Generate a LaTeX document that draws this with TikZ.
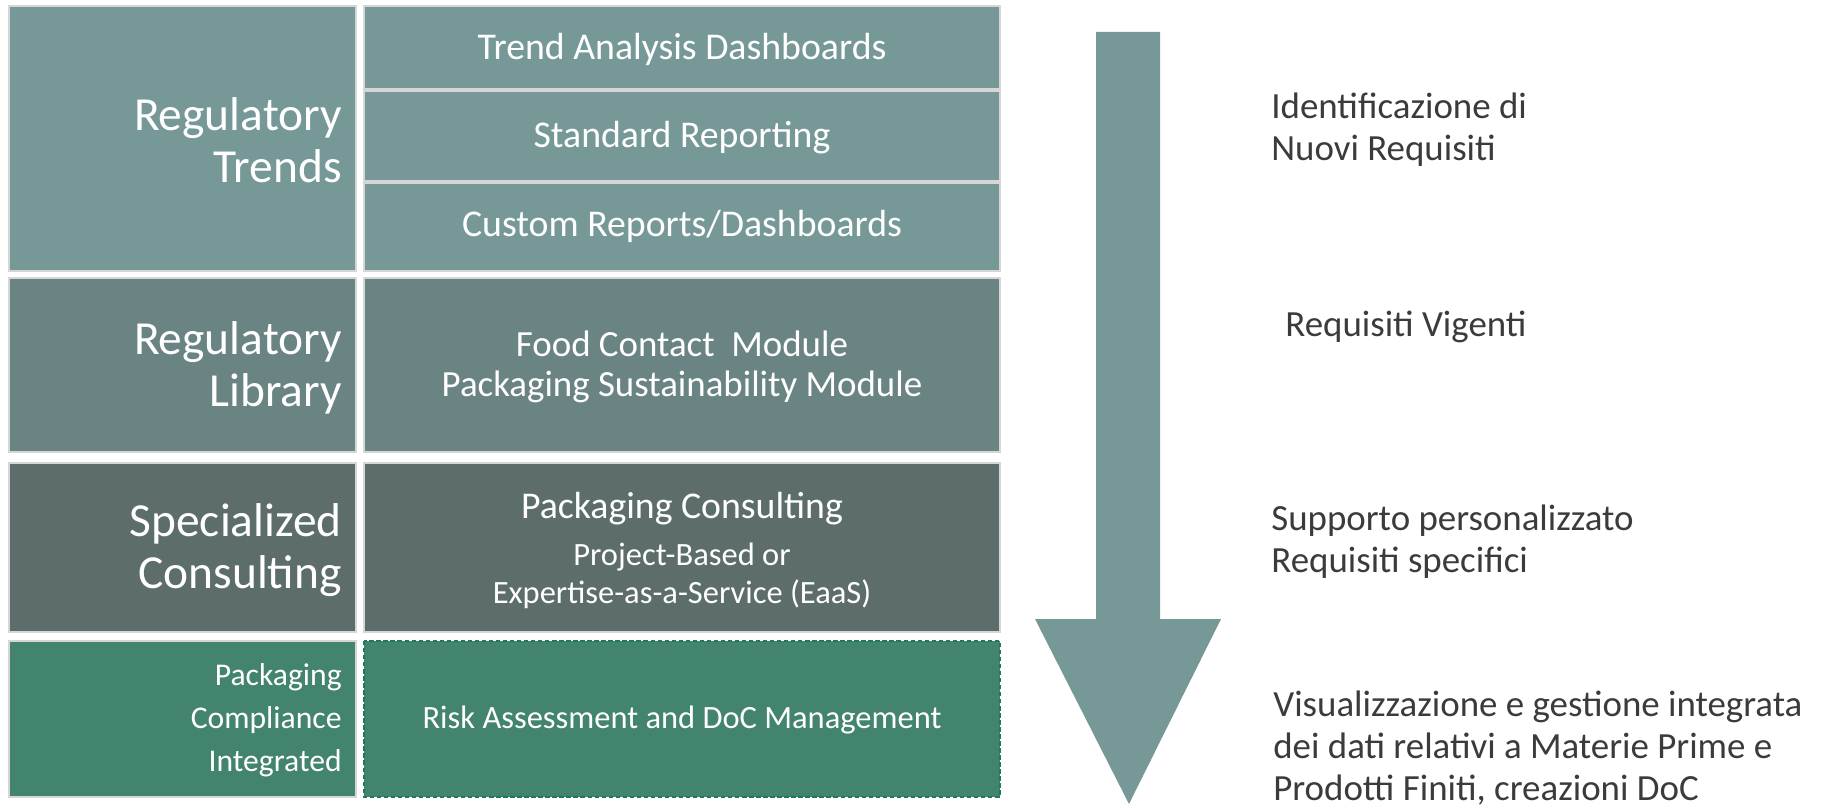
\documentclass[tikz,border=0pt]{standalone}
\usepackage{fontspec}
\setmainfont{Carlito}
\usetikzlibrary{calc}
\definecolor{trendcol}{HTML}{769998}
\definecolor{libcol}{HTML}{6A8383}
\definecolor{conscol}{HTML}{5D6D6C}
\definecolor{pcicol}{HTML}{43846F}
\definecolor{edgecol}{HTML}{D6D6D6}
\definecolor{dashcol}{HTML}{1F7A55}
\definecolor{txtcol}{HTML}{3B3B3B}

\begin{document}
\begin{tikzpicture}[x=0.02cm,y=-0.02cm,
  cell/.style={draw=edgecol,line width=1.2pt},
  lab/.style={text=white,anchor=east,align=right,inner sep=0pt,font=\fontsize{27}{29.5}\selectfont},
  item/.style={text=white,align=center,inner sep=0pt,font=\fontsize{21.5}{23.5}\selectfont},
  note/.style={text=txtcol,anchor=west,align=left,inner sep=0pt,font=\fontsize{21}{24}\selectfont}]
\useasboundingbox (0,0) rectangle (1832,810);
% cells
\filldraw[cell,fill=trendcol] (9,6) rectangle (356,271);
\filldraw[cell,fill=trendcol] (364,6) rectangle (1000,89);
\filldraw[cell,fill=trendcol] (364,91) rectangle (1000,181);
\filldraw[cell,fill=trendcol] (364,183) rectangle (1000,271);
\filldraw[cell,fill=libcol] (9,278) rectangle (356,452);
\filldraw[cell,fill=libcol] (364,278) rectangle (1000,452);
\filldraw[cell,fill=conscol] (9,463) rectangle (356,632);
\filldraw[cell,fill=conscol] (364,463) rectangle (1000,632);
\filldraw[cell,fill=pcicol] (9,641) rectangle (356,797);
\filldraw[fill=pcicol,draw=dashcol,line width=0.8pt,dash pattern=on 2.5pt off 1.5pt] (364,641) rectangle (1000,797);
% left labels
\node[lab] (trends) at (342,140) {Regulatory\\Trends};
\node[lab] (library) at (342,368) {Regulatory\\Library};
\node[lab] (consult) at (342,550) {Specialized\\Consulting};
\node[lab,font=\fontsize{18}{24.5}\selectfont] (pci) at (342,720) {Packaging\\Compliance\\Integrated};
% right column
\node[item] (dash) at (682,49) {Trend Analysis Dashboards};
\node[item] (std) at (682,138) {Standard Reporting};
\node[item] (custom) at (682,226) {Custom Reports/Dashboards};
\node[item,font=\fontsize{21}{23}\selectfont] (modules) at (682,367) {Food Contact\ \ Module\\Packaging Sustainability Module};
\node[item] (pkgcons) at (682,509) {Packaging Consulting};
\node[item,font=\fontsize{18.5}{21.5}\selectfont] (eaas) at (682,576) {Project-Based or\\Expertise-as-a-Service (EaaS)};
\node[item,font=\fontsize{18.5}{22}\selectfont] (risk) at (682,720) {Risk Assessment and DoC Management};
% big arrow
\fill[trendcol] (1096,32) -- (1160,32) -- (1160,619) -- (1221,619) -- (1129,804) -- (1035,619) -- (1096,619) -- cycle;
% notes
\node[note] (newreq) at (1271,130) {Identificazione di\\Nuovi Requisiti};
\node[note] (curreq) at (1285,327) {Requisiti Vigenti};
\node[note] (custreq) at (1271,542) {Supporto personalizzato\\Requisiti specifici};
\node[note] (doc) at (1273,748) {Visualizzazione e gestione integrata\\dei dati relativi a Materie Prime e\\Prodotti Finiti, creazioni DoC};
\end{tikzpicture}
\end{document}
